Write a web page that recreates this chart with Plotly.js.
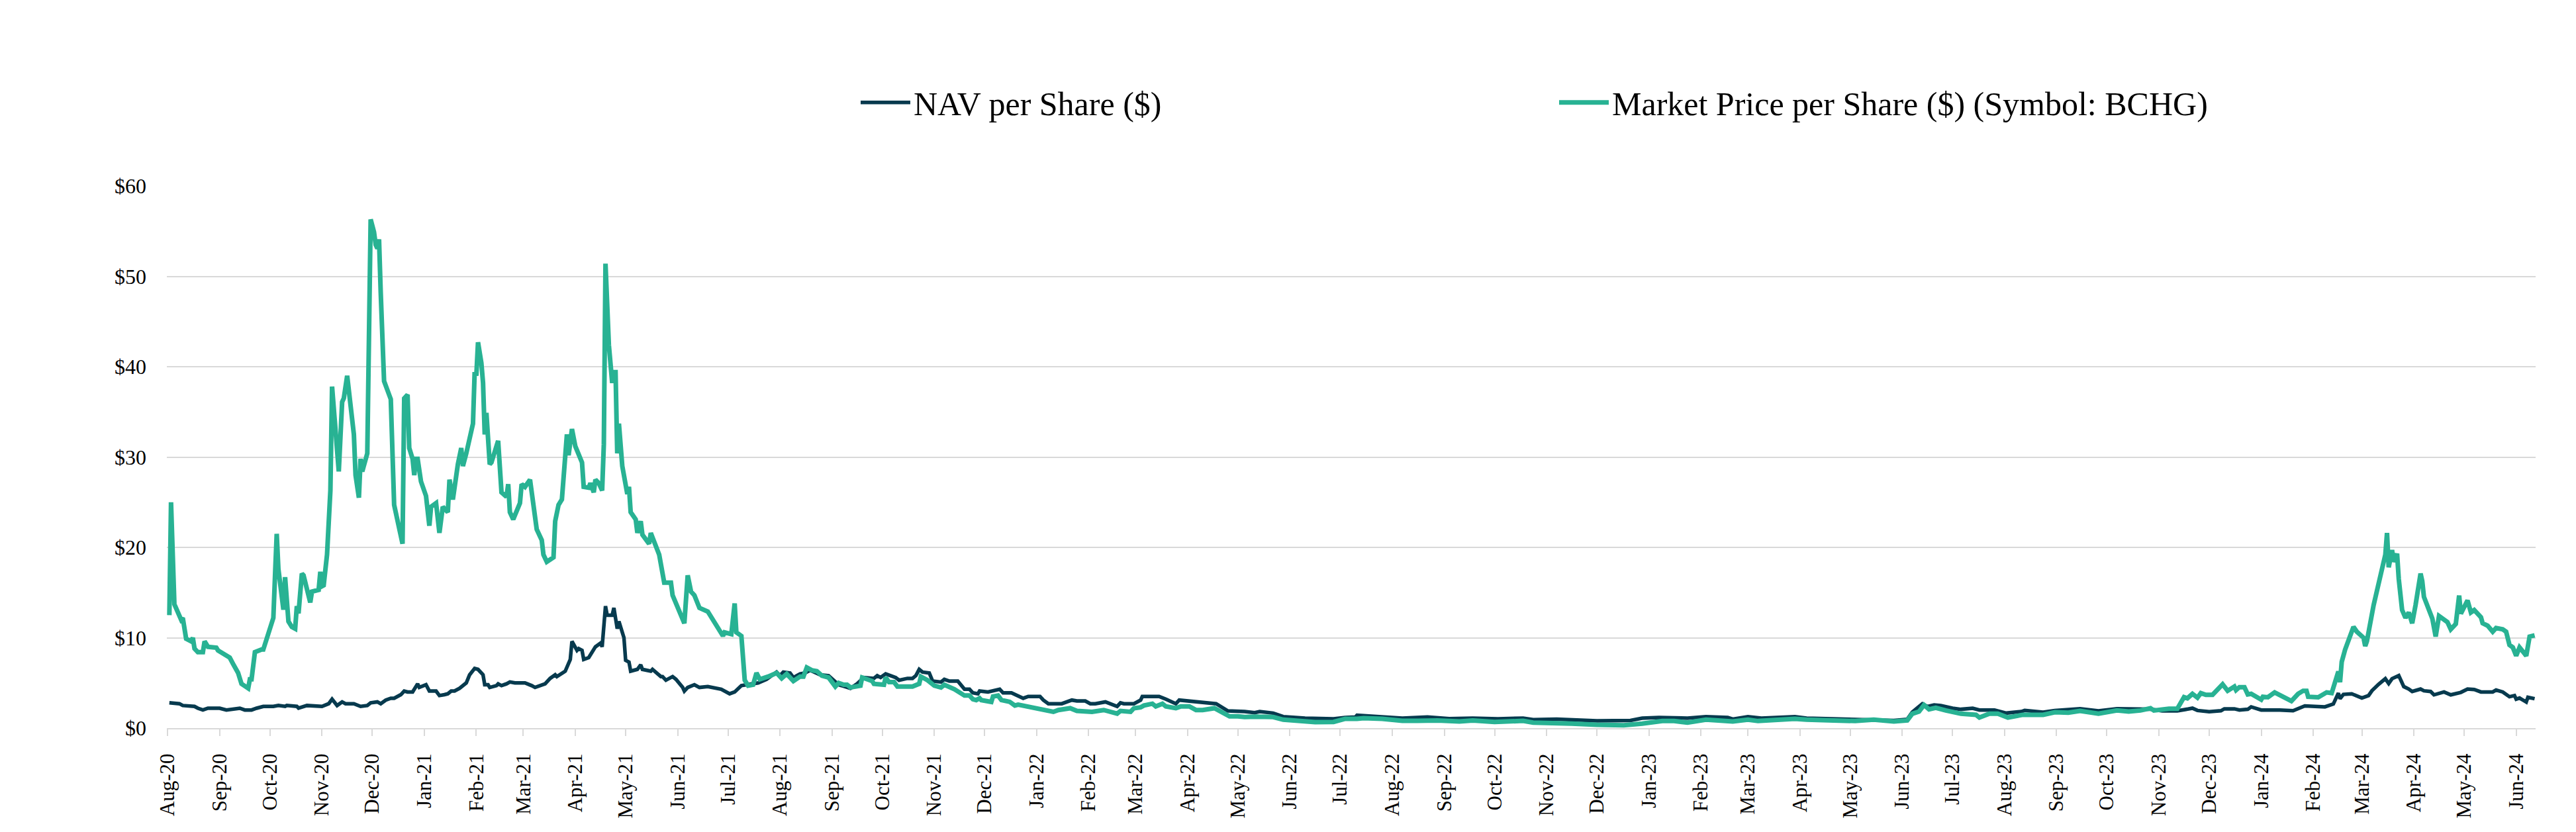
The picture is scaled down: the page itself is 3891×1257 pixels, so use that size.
<!DOCTYPE html>
<html>
<head>
<meta charset="utf-8">
<script src="https://cdn.plot.ly/plotly-3.0.1.min.js"></script>
<style>html,body{margin:0;padding:0;background:#fff;}#chart{width:3891px;height:1257px;}</style>
</head>
<body>
<div id="chart"></div>
<script>
const navName = 'NAV per Share ($)';
const mktName = 'Market Price per Share ($) (Symbol: BCHG)';

const navDates = ['2020-08-02','2020-08-05','2020-08-08','2020-08-10','2020-08-15','2020-08-17','2020-08-19','2020-08-22','2020-08-25','2020-09-01','2020-09-05','2020-09-13','2020-09-16','2020-09-20','2020-09-23','2020-09-27','2020-10-03','2020-10-06','2020-10-10','2020-10-11','2020-10-17','2020-10-18','2020-10-23','2020-11-01','2020-11-05','2020-11-07','2020-11-10','2020-11-13','2020-11-15','2020-11-20','2020-11-24','2020-11-28','2020-11-30','2020-12-04','2020-12-06','2020-12-09','2020-12-12','2020-12-14','2020-12-18','2020-12-20','2020-12-22','2020-12-25','2020-12-28','2020-12-29','2021-01-02','2021-01-04','2021-01-08','2021-01-10','2021-01-13','2021-01-15','2021-01-17','2021-01-19','2021-01-22','2021-01-24','2021-01-26','2021-01-28','2021-01-31','2021-02-02','2021-02-05','2021-02-06','2021-02-08','2021-02-09','2021-02-13','2021-02-14','2021-02-16','2021-02-19','2021-02-21','2021-02-24','2021-03-02','2021-03-06','2021-03-08','2021-03-14','2021-03-17','2021-03-20','2021-03-21','2021-03-26','2021-03-29','2021-03-30','2021-04-02','2021-04-03','2021-04-05','2021-04-06','2021-04-09','2021-04-13','2021-04-16','2021-04-17','2021-04-19','2021-04-20','2021-04-23','2021-04-24','2021-04-26','2021-04-27','2021-04-30','2021-05-01','2021-05-03','2021-05-04','2021-05-08','2021-05-10','2021-05-11','2021-05-16','2021-05-17','2021-05-22','2021-05-23','2021-05-25','2021-05-29','2021-05-31','2021-06-04','2021-06-05','2021-06-07','2021-06-11','2021-06-14','2021-06-19','2021-06-23','2021-06-27','2021-07-02','2021-07-05','2021-07-09','2021-07-13','2021-07-19','2021-07-24','2021-07-27','2021-07-30','2021-08-01','2021-08-03','2021-08-07','2021-08-09','2021-08-13','2021-08-16','2021-08-19','2021-08-22','2021-08-25','2021-08-30','2021-09-03','2021-09-05','2021-09-12','2021-09-16','2021-09-20','2021-09-26','2021-09-28','2021-09-30','2021-10-03','2021-10-07','2021-10-09','2021-10-11','2021-10-16','2021-10-19','2021-10-21','2021-10-23','2021-10-25','2021-10-29','2021-10-31','2021-11-05','2021-11-07','2021-11-10','2021-11-15','2021-11-19','2021-11-22','2021-11-24','2021-11-27','2021-11-28','2021-12-03','2021-12-10','2021-12-12','2021-12-17','2021-12-24','2021-12-27','2022-01-03','2022-01-05','2022-01-08','2022-01-16','2022-01-18','2022-01-22','2022-01-25','2022-01-30','2022-02-02','2022-02-05','2022-02-11','2022-02-15','2022-02-18','2022-02-20','2022-02-22','2022-02-28','2022-03-04','2022-03-05','2022-03-11','2022-03-15','2022-03-19','2022-03-25','2022-03-27','2022-04-02','2022-04-10','2022-04-17','2022-04-18','2022-04-25','2022-05-01','2022-05-05','2022-05-11','2022-05-14','2022-05-22','2022-05-28','2022-06-10','2022-06-20','2022-06-27','2022-07-04','2022-07-10','2022-07-11','2022-07-17','2022-07-28','2022-08-07','2022-08-22','2022-09-04','2022-09-18','2022-10-03','2022-10-18','2022-10-24','2022-11-07','2022-11-20','2022-12-01','2022-12-21','2022-12-28','2023-01-07','2023-01-16','2023-01-24','2023-02-04','2023-02-17','2023-02-20','2023-03-01','2023-03-09','2023-03-29','2023-04-05','2023-04-21','2023-05-04','2023-05-15','2023-05-27','2023-06-04','2023-06-07','2023-06-13','2023-06-16','2023-06-20','2023-06-24','2023-07-01','2023-07-06','2023-07-13','2023-07-17','2023-07-26','2023-08-02','2023-08-11','2023-08-13','2023-08-24','2023-08-31','2023-09-15','2023-09-26','2023-10-07','2023-10-16','2023-10-27','2023-11-03','2023-11-12','2023-11-21','2023-11-24','2023-12-01','2023-12-08','2023-12-10','2023-12-16','2023-12-19','2023-12-24','2023-12-26','2024-01-01','2024-01-12','2024-01-20','2024-01-27','2024-02-08','2024-02-13','2024-02-16','2024-02-17','2024-02-19','2024-02-24','2024-03-01','2024-03-05','2024-03-07','2024-03-11','2024-03-15','2024-03-17','2024-03-19','2024-03-23','2024-03-26','2024-03-29','2024-03-31','2024-04-05','2024-04-07','2024-04-11','2024-04-13','2024-04-19','2024-04-23','2024-04-29','2024-05-03','2024-05-07','2024-05-11','2024-05-18','2024-05-20','2024-05-24','2024-05-28','2024-05-31','2024-06-01','2024-06-03','2024-06-07','2024-06-08','2024-06-12'];
const navValues = [2.8,2.7,2.7,2.5,2.5,2.4,2.2,2.0,2.2,2.2,2.0,2.2,2.0,2.0,2.2,2.4,2.4,2.5,2.4,2.5,2.4,2.2,2.5,2.4,2.7,3.2,2.5,2.9,2.7,2.7,2.4,2.5,2.8,2.9,2.7,3.1,3.3,3.3,3.7,4.1,4.0,4.0,4.9,4.5,4.8,4.1,4.1,3.6,3.7,3.8,4.1,4.1,4.4,4.7,5.0,5.9,6.6,6.5,5.9,4.8,4.8,4.5,4.7,4.9,4.7,4.9,5.1,5.0,5.0,4.7,4.5,4.9,5.5,5.9,5.7,6.3,7.6,9.6,8.6,8.8,8.6,7.6,7.8,9.0,9.4,9.0,13.5,12.5,12.5,13.3,11.0,11.8,10.0,7.5,7.3,6.3,6.5,7.0,6.5,6.3,6.5,5.7,5.7,5.3,5.7,5.4,4.5,4.1,4.5,4.8,4.5,4.6,4.4,4.3,3.8,4.0,4.7,4.8,5.0,5.4,5.8,6.2,5.8,6.2,6.1,5.6,6.0,6.1,6.4,6.1,5.9,5.8,5.1,4.8,4.4,4.9,5.6,5.5,5.8,5.6,6.0,5.7,5.6,5.3,5.5,5.5,5.8,6.5,6.2,6.1,5.2,5.1,5.4,5.2,5.2,4.3,4.3,3.9,3.8,4.1,4.0,4.3,3.9,3.9,3.3,3.5,3.5,3.1,2.7,2.7,2.8,3.1,3.0,3.0,2.7,2.7,2.9,2.6,2.4,2.8,2.7,2.7,3.1,3.5,3.5,3.5,3.2,2.7,3.1,3.0,2.8,2.7,2.7,1.9,1.9,1.83,1.7,1.83,1.66,1.27,1.1,1.03,1.03,1.17,1.22,1.42,1.34,1.27,1.1,1.22,1.05,1.1,1.03,1.1,0.93,0.98,0.93,0.8,0.85,1.1,1.17,1.17,1.1,1.27,1.17,1.0,1.27,1.1,1.27,1.1,1.03,0.98,0.98,0.85,0.98,1.76,2.69,2.39,2.56,2.49,2.2,2.08,2.2,2.0,2.0,1.66,1.83,1.95,1.76,1.95,2.15,1.9,2.15,2.08,2.08,1.9,1.9,2.2,1.95,1.81,1.92,2.13,2.13,2.0,2.08,2.35,2.0,2.0,1.92,2.45,2.35,2.67,3.87,3.25,3.73,3.79,3.33,3.6,4.13,4.85,5.47,4.93,5.47,5.81,4.59,4.32,4.05,4.32,4.13,4.05,3.68,4.0,3.68,3.95,4.32,4.27,4.0,4.0,4.21,4.0,3.47,3.6,3.2,3.33,2.88,3.41,3.25];

const mktDates = ['2020-08-02','2020-08-03','2020-08-05','2020-08-07','2020-08-09','2020-08-10','2020-08-11','2020-08-12','2020-08-15','2020-08-16','2020-08-17','2020-08-19','2020-08-22','2020-08-23','2020-08-25','2020-08-30','2020-08-31','2020-09-03','2020-09-07','2020-09-09','2020-09-12','2020-09-14','2020-09-18','2020-09-19','2020-09-20','2020-09-22','2020-09-23','2020-09-26','2020-09-27','2020-09-30','2020-10-03','2020-10-04','2020-10-05','2020-10-06','2020-10-09','2020-10-10','2020-10-12','2020-10-14','2020-10-16','2020-10-17','2020-10-18','2020-10-20','2020-10-21','2020-10-25','2020-10-26','2020-10-30','2020-10-31','2020-11-01','2020-11-02','2020-11-04','2020-11-06','2020-11-07','2020-11-09','2020-11-11','2020-11-13','2020-11-14','2020-11-16','2020-11-18','2020-11-20','2020-11-21','2020-11-23','2020-11-24','2020-11-25','2020-11-28','2020-11-29','2020-11-30','2020-12-02','2020-12-03','2020-12-04','2020-12-05','2020-12-06','2020-12-08','2020-12-12','2020-12-13','2020-12-14','2020-12-19','2020-12-20','2020-12-22','2020-12-23','2020-12-25','2020-12-26','2020-12-27','2020-12-28','2020-12-30','2021-01-02','2021-01-04','2021-01-05','2021-01-08','2021-01-10','2021-01-12','2021-01-15','2021-01-16','2021-01-18','2021-01-21','2021-01-23','2021-01-24','2021-01-26','2021-01-30','2021-01-31','2021-02-01','2021-02-02','2021-02-04','2021-02-05','2021-02-06','2021-02-07','2021-02-09','2021-02-10','2021-02-12','2021-02-14','2021-02-16','2021-02-19','2021-02-20','2021-02-21','2021-02-23','2021-02-27','2021-02-28','2021-03-02','2021-03-05','2021-03-07','2021-03-09','2021-03-12','2021-03-13','2021-03-15','2021-03-19','2021-03-20','2021-03-22','2021-03-24','2021-03-27','2021-03-28','2021-03-29','2021-03-30','2021-04-01','2021-04-03','2021-04-05','2021-04-06','2021-04-09','2021-04-10','2021-04-12','2021-04-13','2021-04-15','2021-04-17','2021-04-18','2021-04-19','2021-04-21','2021-04-23','2021-04-24','2021-04-25','2021-04-26','2021-04-27','2021-04-29','2021-05-02','2021-05-03','2021-05-04','2021-05-07','2021-05-08','2021-05-10','2021-05-11','2021-05-15','2021-05-16','2021-05-21','2021-05-24','2021-05-28','2021-05-29','2021-06-05','2021-06-07','2021-06-09','2021-06-11','2021-06-14','2021-06-19','2021-06-22','2021-06-25','2021-06-28','2021-06-29','2021-07-03','2021-07-05','2021-07-06','2021-07-09','2021-07-11','2021-07-13','2021-07-16','2021-07-18','2021-07-20','2021-07-25','2021-07-28','2021-07-30','2021-08-02','2021-08-05','2021-08-09','2021-08-13','2021-08-15','2021-08-17','2021-08-20','2021-08-23','2021-08-26','2021-08-30','2021-09-03','2021-09-05','2021-09-08','2021-09-10','2021-09-12','2021-09-18','2021-09-19','2021-09-25','2021-09-26','2021-10-02','2021-10-03','2021-10-05','2021-10-08','2021-10-10','2021-10-19','2021-10-23','2021-10-24','2021-10-28','2021-11-01','2021-11-05','2021-11-07','2021-11-13','2021-11-19','2021-11-22','2021-11-24','2021-11-26','2021-11-28','2021-11-29','2021-12-05','2021-12-06','2021-12-09','2021-12-11','2021-12-16','2021-12-19','2021-12-21','2021-12-26','2022-01-01','2022-01-05','2022-01-11','2022-01-14','2022-01-21','2022-01-25','2022-01-30','2022-02-03','2022-02-10','2022-02-18','2022-02-20','2022-02-26','2022-02-28','2022-03-04','2022-03-06','2022-03-11','2022-03-13','2022-03-17','2022-03-19','2022-03-25','2022-03-28','2022-04-02','2022-04-06','2022-04-10','2022-04-17','2022-04-21','2022-04-26','2022-05-01','2022-05-05','2022-05-12','2022-05-22','2022-05-28','2022-06-10','2022-06-16','2022-06-27','2022-07-04','2022-07-11','2022-07-15','2022-07-26','2022-08-07','2022-08-16','2022-08-28','2022-09-10','2022-09-18','2022-10-01','2022-10-18','2022-10-24','2022-11-05','2022-11-16','2022-12-01','2022-12-17','2022-12-28','2023-01-09','2023-01-16','2023-01-24','2023-02-04','2023-02-17','2023-02-20','2023-03-01','2023-03-07','2023-03-29','2023-04-05','2023-04-21','2023-05-04','2023-05-15','2023-05-27','2023-06-04','2023-06-07','2023-06-11','2023-06-14','2023-06-17','2023-06-21','2023-06-27','2023-07-06','2023-07-15','2023-07-17','2023-07-23','2023-07-28','2023-08-03','2023-08-11','2023-08-12','2023-08-24','2023-08-31','2023-09-08','2023-09-15','2023-09-26','2023-10-07','2023-10-14','2023-10-21','2023-10-27','2023-10-29','2023-11-07','2023-11-12','2023-11-16','2023-11-18','2023-11-21','2023-11-24','2023-11-26','2023-11-29','2023-12-03','2023-12-05','2023-12-09','2023-12-12','2023-12-16','2023-12-17','2023-12-19','2023-12-22','2023-12-24','2023-12-26','2024-01-01','2024-01-02','2024-01-05','2024-01-09','2024-01-15','2024-01-19','2024-01-23','2024-01-26','2024-01-28','2024-01-29','2024-02-04','2024-02-09','2024-02-12','2024-02-16','2024-02-17','2024-02-18','2024-02-20','2024-02-25','2024-02-27','2024-03-02','2024-03-03','2024-03-04','2024-03-08','2024-03-11','2024-03-12','2024-03-15','2024-03-16','2024-03-17','2024-03-19','2024-03-20','2024-03-22','2024-03-23','2024-03-25','2024-03-27','2024-03-29','2024-03-31','2024-04-02','2024-04-05','2024-04-06','2024-04-07','2024-04-12','2024-04-14','2024-04-16','2024-04-21','2024-04-23','2024-04-26','2024-04-28','2024-04-29','2024-05-03','2024-05-05','2024-05-07','2024-05-11','2024-05-12','2024-05-15','2024-05-18','2024-05-20','2024-05-24','2024-05-26','2024-05-28','2024-05-30','2024-06-01','2024-06-03','2024-06-07','2024-06-09','2024-06-12'];
const mktValues = [12.5,25.0,13.7,12.7,12.0,12.2,10.6,9.9,9.6,10.0,8.8,8.4,8.4,9.6,9.0,8.9,8.6,8.2,7.8,7.1,6.1,4.9,4.4,5.4,5.4,8.4,8.5,8.7,8.7,10.6,12.2,16.9,21.5,17.6,13.1,16.7,11.8,11.2,11.0,13.5,12.7,17.1,16.9,13.9,15.1,15.3,17.3,15.7,15.8,19.2,26.3,37.8,33.3,28.4,36.1,36.5,39.0,36.1,32.5,28.0,25.5,29.8,28.4,30.4,41.6,56.3,54.9,53.5,53.1,54.1,48.2,38.4,36.4,29.0,24.7,20.4,36.5,36.9,31.0,29.8,28.0,29.8,29.8,27.3,25.7,22.4,24.5,24.9,21.6,24.5,23.9,27.5,25.3,29.2,31.0,29.0,30.4,33.7,39.4,39.0,42.7,40.4,38.2,32.5,34.9,29.2,29.4,30.6,31.8,26.1,25.6,27.0,23.9,23.1,24.9,27.0,26.7,27.5,25.1,22.0,20.8,19.2,18.4,18.9,22.9,24.7,25.3,32.5,30.2,31.6,33.1,31.2,30.2,29.4,26.7,26.6,27.1,26.1,27.5,27.1,26.3,31.4,51.4,42.4,38.2,39.4,39.4,30.4,33.7,29.0,25.9,26.7,23.9,23.1,21.6,22.9,21.4,20.4,21.6,19.2,16.1,16.1,14.7,11.6,16.9,15.1,14.7,13.3,12.9,12.0,11.3,10.2,10.6,10.4,13.8,10.6,10.2,5.3,4.7,4.8,6.1,5.4,5.7,6.0,6.1,5.5,6.0,5.2,5.7,5.7,6.7,6.4,6.3,5.8,5.6,4.6,5.0,4.8,4.8,4.5,4.7,5.6,5.2,4.9,4.8,5.6,5.1,5.1,4.6,4.6,4.9,5.7,5.3,4.7,4.5,4.8,4.3,3.6,3.6,3.2,3.1,3.3,3.1,2.9,3.5,3.6,3.1,2.9,2.5,2.6,2.4,2.2,2.0,1.8,2.0,2.2,1.9,1.9,1.8,2.0,1.6,1.9,1.8,2.2,2.3,2.5,2.7,2.4,2.7,2.4,2.2,2.4,2.4,2.0,2.0,2.2,1.8,1.3,1.3,1.22,1.27,1.22,0.93,0.73,0.66,0.68,1.03,1.03,1.1,1.03,0.8,0.8,0.85,0.73,0.85,0.68,0.8,0.61,0.49,0.49,0.37,0.32,0.49,0.78,0.78,0.61,0.93,0.8,0.73,0.93,0.78,1.03,0.93,0.85,0.78,0.93,0.73,0.85,1.59,1.83,2.56,2.08,2.25,1.95,1.59,1.47,1.17,1.59,1.59,1.17,1.34,1.47,1.47,1.76,1.71,1.9,1.59,1.95,1.83,1.95,2.2,1.95,2.15,2.15,3.42,3.3,3.79,3.37,3.87,3.68,3.68,4.13,4.85,4.13,4.59,4.21,4.53,4.53,3.73,3.79,3.15,3.47,3.41,3.95,3.33,2.99,3.79,4.13,4.13,3.47,3.41,3.95,3.87,6.27,5.07,7.33,8.67,11.2,10.67,10.0,9.07,9.6,13.6,16.0,17.33,19.2,21.6,17.8,19.7,18.4,19.3,16.5,13.07,12.21,12.8,11.6,13.6,17.1,16.27,14.53,12.13,10.13,12.4,11.73,10.93,11.52,14.67,12.67,14.13,12.8,13.07,12.27,11.6,11.33,10.67,11.07,10.93,10.67,9.2,8.93,8.0,8.93,8.0,10.13,10.27];

const yTickValues = [0, 10, 20, 30, 40, 50, 60];
const yTickLabels = ['$0', '$10', '$20', '$30', '$40', '$50', '$60'];

const NAV_COLOR = '#073a4e';
const MKT_COLOR = '#28b293';
const FONT = '"Liberation Serif", "Times New Roman", Times, serif';

const traces = [
  {type:'scatter', mode:'lines', name:navName, x:navDates, y:navValues,
   line:{color:NAV_COLOR, width:5.5}},
  {type:'scatter', mode:'lines', name:mktName, x:mktDates, y:mktValues,
   line:{color:MKT_COLOR, width:7}}
];

const layout = {
  width: 3891, height: 1257,
  margin: {l:252, r:61, t:281, b:157, pad:0},
  paper_bgcolor:'#ffffff', plot_bgcolor:'#ffffff',
  font: {family: FONT, color:'#000000', size:32},
  showlegend: true,
  legend: {
    orientation:'h', x:0.2915, xanchor:'left', y:1.154, yanchor:'middle',
    font:{family: FONT, size:50, color:'#000000'},
    itemwidth: 75, entrywidth: 965, entrywidthmode:'pixels',
    traceorder:'normal', bgcolor:'rgba(0,0,0,0)'
  },
  xaxis: {
    type:'date', range:['2020-07-31 12:00','2024-06-12 14:00'],
    tick0:'2020-08-01', dtick:'M1', tickformat:'%b-%y', tickangle:-90,
    ticks:'outside', ticklen:10, tickwidth:2, tickcolor:'#d9d9d9',
    showline:true, linecolor:'#d9d9d9', linewidth:2, showgrid:false, zeroline:false,
    tickfont:{family: FONT, size:31, color:'#000000'},
    ticklabelstandoff: 14
  },
  yaxis: {
    range:[0,60], tickmode:'array', tickvals:yTickValues, ticktext:yTickLabels,
    showgrid:true, gridcolor:'#d9d9d9', gridwidth:2, zeroline:false, showline:false,
    ticks:'', tickfont:{family: FONT, size:32, color:'#000000'},
    ticklabelstandoff: 30
  }
};

Plotly.newPlot('chart', traces, layout, {displayModeBar:false, staticPlot:true});
</script>
</body>
</html>
